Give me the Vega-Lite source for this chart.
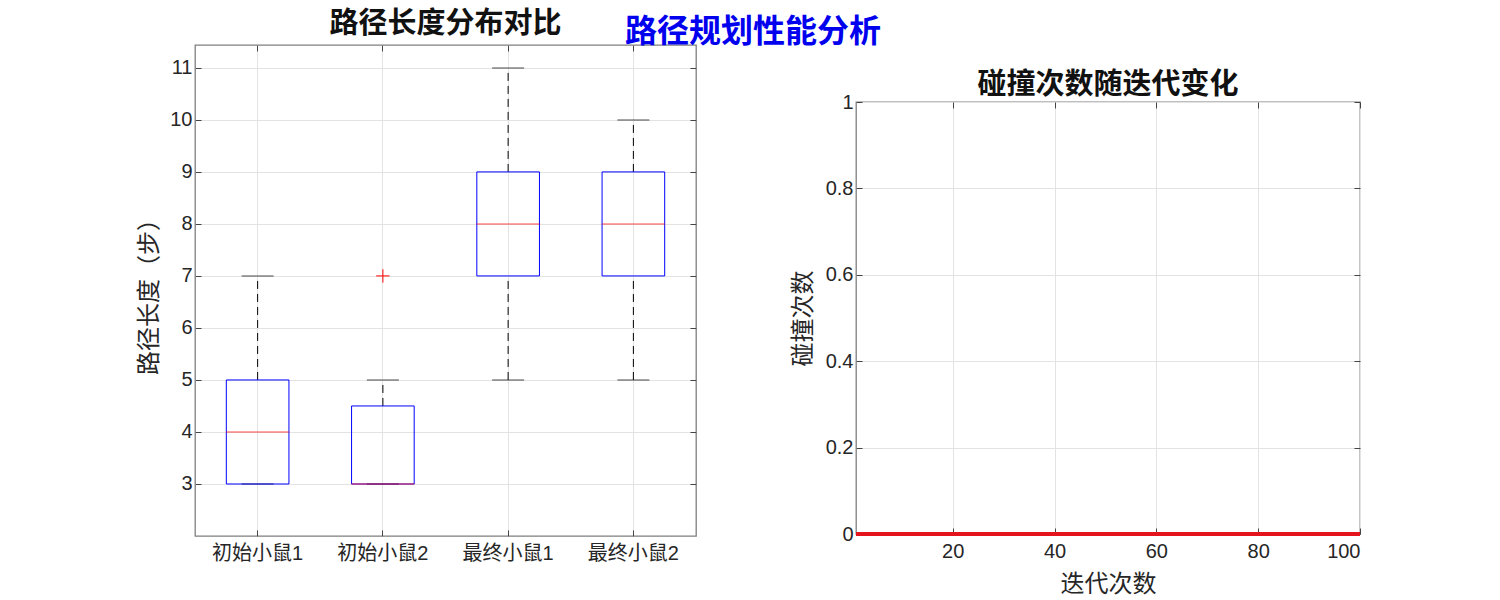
{
  "$schema": "https://vega.github.io/schema/vega-lite/v6.json",
  "background": "white",
  "padding": {"left": 137, "top": 8, "right": 5, "bottom": 5},
  "title": {
    "text": "路径规划性能分析",
    "font": "Noto Sans CJK SC",
    "fontSize": 32,
    "fontWeight": "bold",
    "color": "#0000ee",
    "anchor": "middle",
    "offset": -40
  },
  "datasets": {
    "boxes": [
      {"name": "初始小鼠1", "lower": 3, "q1": 3, "median": 4, "q3": 5, "upper": 7},
      {"name": "初始小鼠2", "lower": 3, "q1": 3, "median": 3, "q3": 4.5, "upper": 5},
      {"name": "最终小鼠1", "lower": 5, "q1": 7, "median": 8, "q3": 9, "upper": 11},
      {"name": "最终小鼠2", "lower": 5, "q1": 7, "median": 8, "q3": 9, "upper": 10}
    ],
    "outliers": [
      {"name": "初始小鼠2", "value": 7}
    ],
    "collisions": [
      {"iter": 1, "count": 0}, {"iter": 2, "count": 0}, {"iter": 3, "count": 0}, {"iter": 4, "count": 0}, {"iter": 5, "count": 0},
      {"iter": 6, "count": 0}, {"iter": 7, "count": 0}, {"iter": 8, "count": 0}, {"iter": 9, "count": 0}, {"iter": 10, "count": 0},
      {"iter": 11, "count": 0}, {"iter": 12, "count": 0}, {"iter": 13, "count": 0}, {"iter": 14, "count": 0}, {"iter": 15, "count": 0},
      {"iter": 16, "count": 0}, {"iter": 17, "count": 0}, {"iter": 18, "count": 0}, {"iter": 19, "count": 0}, {"iter": 20, "count": 0},
      {"iter": 21, "count": 0}, {"iter": 22, "count": 0}, {"iter": 23, "count": 0}, {"iter": 24, "count": 0}, {"iter": 25, "count": 0},
      {"iter": 26, "count": 0}, {"iter": 27, "count": 0}, {"iter": 28, "count": 0}, {"iter": 29, "count": 0}, {"iter": 30, "count": 0},
      {"iter": 31, "count": 0}, {"iter": 32, "count": 0}, {"iter": 33, "count": 0}, {"iter": 34, "count": 0}, {"iter": 35, "count": 0},
      {"iter": 36, "count": 0}, {"iter": 37, "count": 0}, {"iter": 38, "count": 0}, {"iter": 39, "count": 0}, {"iter": 40, "count": 0},
      {"iter": 41, "count": 0}, {"iter": 42, "count": 0}, {"iter": 43, "count": 0}, {"iter": 44, "count": 0}, {"iter": 45, "count": 0},
      {"iter": 46, "count": 0}, {"iter": 47, "count": 0}, {"iter": 48, "count": 0}, {"iter": 49, "count": 0}, {"iter": 50, "count": 0},
      {"iter": 51, "count": 0}, {"iter": 52, "count": 0}, {"iter": 53, "count": 0}, {"iter": 54, "count": 0}, {"iter": 55, "count": 0},
      {"iter": 56, "count": 0}, {"iter": 57, "count": 0}, {"iter": 58, "count": 0}, {"iter": 59, "count": 0}, {"iter": 60, "count": 0},
      {"iter": 61, "count": 0}, {"iter": 62, "count": 0}, {"iter": 63, "count": 0}, {"iter": 64, "count": 0}, {"iter": 65, "count": 0},
      {"iter": 66, "count": 0}, {"iter": 67, "count": 0}, {"iter": 68, "count": 0}, {"iter": 69, "count": 0}, {"iter": 70, "count": 0},
      {"iter": 71, "count": 0}, {"iter": 72, "count": 0}, {"iter": 73, "count": 0}, {"iter": 74, "count": 0}, {"iter": 75, "count": 0},
      {"iter": 76, "count": 0}, {"iter": 77, "count": 0}, {"iter": 78, "count": 0}, {"iter": 79, "count": 0}, {"iter": 80, "count": 0},
      {"iter": 81, "count": 0}, {"iter": 82, "count": 0}, {"iter": 83, "count": 0}, {"iter": 84, "count": 0}, {"iter": 85, "count": 0},
      {"iter": 86, "count": 0}, {"iter": 87, "count": 0}, {"iter": 88, "count": 0}, {"iter": 89, "count": 0}, {"iter": 90, "count": 0},
      {"iter": 91, "count": 0}, {"iter": 92, "count": 0}, {"iter": 93, "count": 0}, {"iter": 94, "count": 0}, {"iter": 95, "count": 0},
      {"iter": 96, "count": 0}, {"iter": 97, "count": 0}, {"iter": 98, "count": 0}, {"iter": 99, "count": 0}, {"iter": 100, "count": 0}
    ]
  },
  "spacing": 92,
  "hconcat": [
    {
      "width": 501,
      "height": 491,
      "title": {"text": "路径长度分布对比"},
      "data": {"name": "boxes"},
      "resolve": {"axis": {"x": "independent", "y": "independent"}},
      "layer": [
        {
          "mark": {"type": "rule", "color": "black", "strokeDash": [8, 5], "strokeWidth": 1},
          "encoding": {
            "x": {
              "field": "name", "type": "nominal", "sort": null,
              "scale": {"domain": ["初始小鼠1", "初始小鼠2", "最终小鼠1", "最终小鼠2"], "paddingInner": 0, "paddingOuter": 0},
              "axis": {"title": null, "labelAngle": 0, "bandPosition": 0.5, "grid": true, "labelPadding": 13}
            },
            "y": {
              "field": "q3", "type": "quantitative",
              "scale": {"domain": [2, 11.44], "nice": false, "zero": false},
              "axis": {"title": "路径长度（步）", "values": [3, 4, 5, 6, 7, 8, 9, 10, 11], "labelPadding": 9, "titlePadding": 8}
            },
            "y2": {"field": "upper"}
          }
        },
        {
          "mark": {"type": "rule", "color": "black", "strokeDash": [8, 5], "strokeWidth": 1},
          "encoding": {
            "x": {"field": "name", "type": "nominal", "sort": null, "axis": null},
            "y": {"field": "lower", "type": "quantitative", "axis": null},
            "y2": {"field": "q1"}
          }
        },
        {
          "mark": {"type": "tick", "color": "black", "size": 32, "thickness": 1, "orient": "horizontal"},
          "encoding": {
            "x": {"field": "name", "type": "nominal", "sort": null, "axis": null},
            "y": {"field": "upper", "type": "quantitative", "axis": null}
          }
        },
        {
          "mark": {"type": "tick", "color": "black", "size": 32, "thickness": 1, "orient": "horizontal"},
          "encoding": {
            "x": {"field": "name", "type": "nominal", "sort": null, "axis": null},
            "y": {"field": "lower", "type": "quantitative", "axis": null}
          }
        },
        {
          "mark": {"type": "bar", "filled": false, "color": "#0000ff", "strokeWidth": 1, "width": {"band": 0.5}},
          "encoding": {
            "x": {"field": "name", "type": "nominal", "sort": null, "axis": null},
            "y": {"field": "q1", "type": "quantitative", "axis": null},
            "y2": {"field": "q3"}
          }
        },
        {
          "mark": {"type": "tick", "color": "#ff0000", "size": 63, "thickness": 1, "orient": "horizontal"},
          "encoding": {
            "x": {"field": "name", "type": "nominal", "sort": null, "axis": null},
            "y": {"field": "median", "type": "quantitative", "axis": null}
          }
        },
        {
          "data": {"name": "outliers"},
          "mark": {"type": "point", "shape": "M-1,0L1,0M0,-1L0,1", "filled": false, "color": "#ff0000", "size": 180, "strokeWidth": 1, "opacity": 1},
          "encoding": {
            "x": {"field": "name", "type": "nominal", "sort": null, "axis": null},
            "y": {"field": "value", "type": "quantitative", "axis": null}
          }
        },
        {
          "mark": {"type": "tick", "opacity": 0},
          "encoding": {
            "x": {"field": "name", "type": "nominal", "sort": null, "axis": {"orient": "top", "labels": false, "title": null, "grid": false, "bandPosition": 0.5}},
            "y": {"field": "median", "type": "quantitative", "axis": {"orient": "right", "labels": false, "title": null, "grid": false, "values": [3, 4, 5, 6, 7, 8, 9, 10, 11]}}
          }
        }
      ]
    },
    {
      "spacing": 0,
      "vconcat": [
        {
          "width": 504,
          "height": 25,
          "view": {"stroke": null},
          "data": {"values": []},
          "mark": {"type": "point", "opacity": 0},
          "encoding": {}
        },
        {
          "width": 504,
          "height": 432,
          "title": {"text": "碰撞次数随迭代变化", "offset": -8},
          "data": {"name": "collisions"},
          "resolve": {"axis": {"x": "independent", "y": "independent"}},
          "layer": [
            {
              "mark": {"type": "line", "color": "#e5131b", "strokeWidth": 4, "clip": false},
              "encoding": {
                "x": {
                  "field": "iter", "type": "quantitative",
                  "scale": {"domain": [1, 100], "nice": false, "zero": false},
                  "axis": {"title": "迭代次数", "values": [20, 40, 60, 80, 100], "labelPadding": 13, "titlePadding": 11}
                },
                "y": {
                  "field": "count", "type": "quantitative",
                  "scale": {"domain": [0, 1], "nice": false},
                  "axis": {"title": "碰撞次数", "values": [0, 0.2, 0.4, 0.6, 0.8, 1], "format": "~g", "labelPadding": 9, "titlePadding": 10}
                }
              }
            },
            {
              "mark": {"type": "point", "opacity": 0},
              "encoding": {
                "x": {"field": "iter", "type": "quantitative", "axis": {"orient": "top", "labels": false, "title": null, "grid": false, "values": [20, 40, 60, 80, 100]}},
                "y": {"field": "count", "type": "quantitative", "axis": {"orient": "right", "labels": false, "title": null, "grid": false, "values": [0, 0.2, 0.4, 0.6, 0.8, 1]}}
              }
            }
          ]
        }
      ]
    }
  ],
  "config": {
    "font": "Noto Sans CJK SC",
    "view": {"stroke": "#7f7f7f", "strokeWidth": 1.3},
    "title": {"font": "Noto Sans CJK SC", "fontSize": 29, "fontWeight": "bold", "color": "#111111", "offset": 6},
    "axis": {
      "labelFont": "Liberation Sans, Noto Sans CJK SC",
      "labelFontSize": 20,
      "labelColor": "#262626",
      "titleFont": "Noto Sans CJK SC",
      "titleFontSize": 24,
      "titleFontWeight": "normal",
      "titleColor": "#262626",
      "domain": false,
      "ticks": true,
      "tickSize": -6,
      "tickColor": "#444444",
      "grid": true,
      "gridColor": "#e3e3e3",
      "gridWidth": 1
    }
  }
}
